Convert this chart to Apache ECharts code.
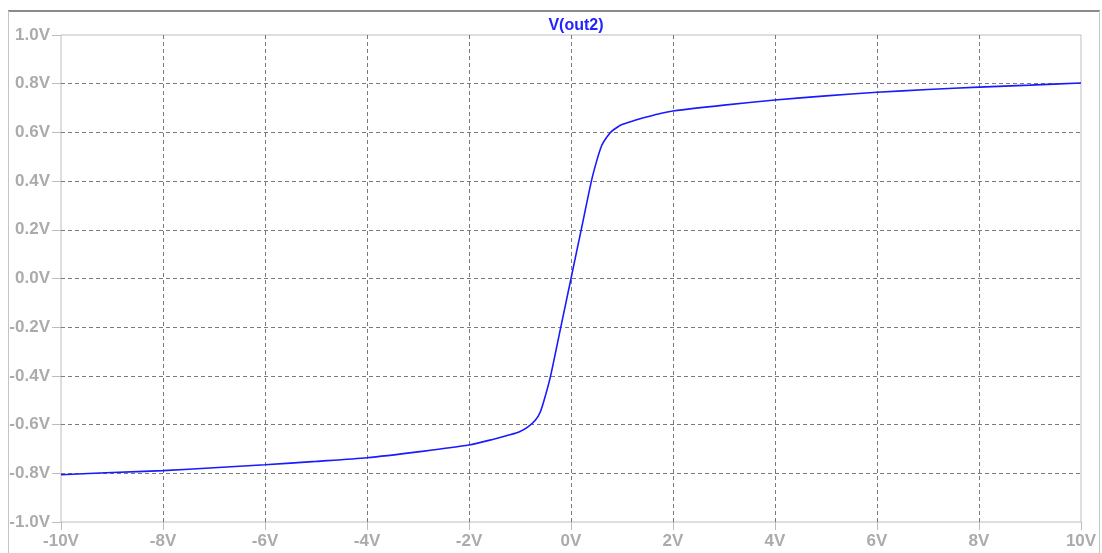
<!DOCTYPE html>
<html>
<head>
<meta charset="utf-8">
<script src="https://cdn.jsdelivr.net/npm/echarts@6/dist/echarts.min.js"></script>
<style>
  html, body { margin: 0; padding: 0; background: #ffffff; }
  #chart { width: 1102px; height: 553px; }
</style>
</head>
<body>
<div id="chart"></div>
<script>
// DC sweep of the input source (V) and the resulting node voltage V(out2)
const sweepVolts = [-10, -9, -8, -7, -6, -5, -4, -3, -2, -1.5, -1.2, -1.0, -0.85, -0.7, -0.6, -0.5, -0.4, -0.2, 0,
  0.2, 0.4, 0.5, 0.6, 0.7, 0.8, 0.9, 1.0, 1.2, 1.5, 1.75, 2, 3, 4, 5, 6, 7, 8, 9, 10];
const out2Volts = [-0.806, -0.797, -0.789, -0.777, -0.765, -0.751, -0.736, -0.712, -0.684, -0.659, -0.642, -0.628, -0.61, -0.582, -0.547, -0.48, -0.4, -0.2, 0,
  0.2, 0.4, 0.48, 0.545, 0.58, 0.605, 0.62, 0.632, 0.646, 0.664, 0.678, 0.688, 0.712, 0.733, 0.75, 0.765, 0.776, 0.786, 0.794, 0.803];
const traceName = 'V(out2)';
const xTicks = { min: -10, max: 10, step: 2 };
const yTicks = { min: -1, max: 1, step: 0.2 };

const textFont = '"Liberation Sans", Arial, sans-serif';
const labelGray = '#ababab';
const frameGray = '#bdbdbd';
const gridGray = '#7a7a7a';

const chart = echarts.init(document.getElementById('chart'), null, { renderer: 'canvas' });

chart.setOption({
  animation: false,
  backgroundColor: '#ffffff',
  title: {
    text: traceName,
    left: 571,
    textAlign: 'center',
    top: 13,
    textStyle: { color: '#2323ff', fontFamily: textFont, fontWeight: 'bold', fontSize: 16 }
  },
  grid: {
    left: 61, right: 21, top: 35, bottom: 31,
    show: true, borderColor: frameGray, borderWidth: 1, backgroundColor: 'transparent'
  },
  xAxis: {
    type: 'value',
    min: xTicks.min, max: xTicks.max, interval: xTicks.step,
    axisLine: { show: false, onZero: false },
    axisTick: { show: true, length: 8, lineStyle: { color: frameGray } },
    axisLabel: {
      color: labelGray, fontFamily: textFont, fontWeight: 'bold', fontSize: 17, margin: 11,
      formatter: v => v + 'V'
    },
    splitLine: {
      show: true, showMinLine: false, showMaxLine: false,
      lineStyle: { color: gridGray, type: [4, 3], width: 1 }
    }
  },
  yAxis: {
    type: 'value',
    min: yTicks.min, max: yTicks.max, interval: yTicks.step,
    axisLine: { show: false, onZero: false },
    axisTick: { show: true, length: 9, lineStyle: { color: frameGray } },
    axisLabel: {
      color: labelGray, fontFamily: textFont, fontWeight: 'bold', fontSize: 17, margin: 11,
      formatter: v => v.toFixed(1) + 'V'
    },
    splitLine: {
      show: true, showMinLine: false, showMaxLine: false,
      lineStyle: { color: gridGray, type: [4, 3], width: 1 }
    }
  },
  series: [{
    name: traceName,
    type: 'line',
    data: sweepVolts.map((x, i) => [x, out2Volts[i]]),
    showSymbol: false,
    smooth: 0.25,
    lineStyle: { color: '#1a1aff', width: 1.6 },
    z: 5
  }],
  graphic: [
    // window frame around the plot pane
    { type: 'line', shape: { x1: 8, y1: 11, x2: 1100, y2: 11 }, style: { stroke: '#8a8a8a', lineWidth: 2 }, silent: true },
    { type: 'line', shape: { x1: 8.5, y1: 11, x2: 8.5, y2: 553 }, style: { stroke: '#c4c4c4', lineWidth: 1 }, silent: true },
    { type: 'line', shape: { x1: 1099.5, y1: 11, x2: 1099.5, y2: 553 }, style: { stroke: '#c4c4c4', lineWidth: 1 }, silent: true }
  ]
});
</script>
</body>
</html>
